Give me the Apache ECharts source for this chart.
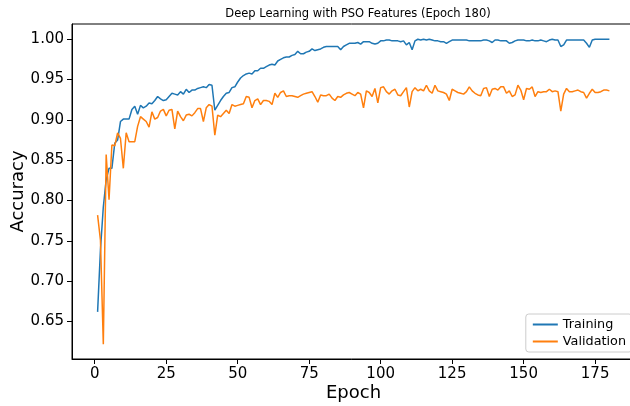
<!DOCTYPE html>
<html>
<head>
<meta charset="utf-8">
<script src="https://cdn.jsdelivr.net/npm/echarts@6/dist/echarts.min.js"></script>
<style>
  html, body { margin: 0; padding: 0; background: #fff; }
  #chart { width: 630px; height: 406px; }
</style>
</head>
<body>
<div id="chart"></div>
<script>
// Accuracy per epoch (epochs 1..180)
const trainAcc = [
  0.662, 0.739, 0.792, 0.826, 0.840, 0.840, 0.871, 0.875, 0.898, 0.901,
  0.901, 0.901, 0.913, 0.917, 0.907, 0.918, 0.915, 0.917, 0.921, 0.920,
  0.924, 0.929, 0.926, 0.924, 0.925, 0.929, 0.933, 0.932, 0.931, 0.935,
  0.932, 0.938, 0.934, 0.937, 0.937, 0.939, 0.940, 0.941, 0.940, 0.944,
  0.943, 0.912, 0.918, 0.924, 0.929, 0.933, 0.934, 0.940, 0.941, 0.947,
  0.952, 0.955, 0.957, 0.958, 0.957, 0.961, 0.961, 0.964, 0.964, 0.966,
  0.968, 0.969, 0.968, 0.973, 0.975, 0.977, 0.978, 0.978, 0.980, 0.981,
  0.985, 0.982, 0.982, 0.984, 0.985, 0.988, 0.986, 0.987, 0.988, 0.990,
  0.991, 0.991, 0.991, 0.991, 0.991, 0.987, 0.991, 0.993, 0.995, 0.995,
  0.995, 0.996, 0.994, 0.997, 0.997, 0.997, 0.995, 0.994, 0.995, 0.998,
  0.998, 0.999, 0.999, 0.998, 0.998, 0.998, 0.997, 0.998, 0.993, 0.996,
  0.987, 0.998, 1.000, 0.999, 1.000, 0.999, 1.000, 0.999, 0.998, 0.998,
  0.997, 0.997, 0.995, 0.997, 0.999, 0.999, 0.999, 0.999, 0.999, 0.999,
  0.998, 0.998, 0.998, 0.998, 0.998, 0.999, 0.999, 0.998, 0.996, 0.999,
  0.999, 0.998, 0.998, 0.998, 0.995, 0.996, 0.998, 0.999, 0.999, 0.999,
  0.998, 0.998, 0.999, 0.998, 0.998, 0.999, 0.998, 0.997, 0.999, 1.000,
  0.999, 0.999, 0.991, 0.993, 0.999, 0.999, 0.999, 0.999, 0.999, 0.999,
  0.999, 0.995, 0.990, 0.999, 1.000, 1.000, 1.000, 1.000, 1.000, 1.000
];

const valAcc = [
  0.782, 0.751, 0.622, 0.857, 0.801, 0.869, 0.868, 0.884, 0.877, 0.840,
  0.884, 0.873, 0.873, 0.873, 0.892, 0.904, 0.901, 0.898, 0.891, 0.910,
  0.901, 0.903, 0.911, 0.913, 0.905, 0.912, 0.913, 0.889, 0.911, 0.904,
  0.899, 0.906, 0.907, 0.905, 0.909, 0.914, 0.914, 0.898, 0.915, 0.919,
  0.917, 0.881, 0.906, 0.904, 0.908, 0.912, 0.908, 0.919, 0.917, 0.918,
  0.919, 0.920, 0.929, 0.928, 0.915, 0.924, 0.926, 0.919, 0.924, 0.924,
  0.923, 0.919, 0.933, 0.928, 0.934, 0.936, 0.929, 0.930, 0.930, 0.929,
  0.928, 0.930, 0.932, 0.933, 0.934, 0.935, 0.929, 0.922, 0.931, 0.930,
  0.930, 0.932, 0.927, 0.924, 0.929, 0.928, 0.931, 0.933, 0.934, 0.932,
  0.930, 0.934, 0.932, 0.915, 0.936, 0.934, 0.929, 0.939, 0.921, 0.940,
  0.941, 0.935, 0.932, 0.936, 0.938, 0.931, 0.930, 0.935, 0.940, 0.916,
  0.935, 0.940, 0.936, 0.938, 0.936, 0.943, 0.936, 0.933, 0.943, 0.936,
  0.935, 0.934, 0.932, 0.924, 0.938, 0.936, 0.934, 0.933, 0.932, 0.935,
  0.941, 0.936, 0.933, 0.931, 0.930, 0.939, 0.940, 0.929, 0.938, 0.939,
  0.937, 0.941, 0.941, 0.933, 0.936, 0.929, 0.931, 0.943, 0.937, 0.925,
  0.939, 0.938, 0.941, 0.929, 0.935, 0.934, 0.935, 0.935, 0.938, 0.935,
  0.936, 0.935, 0.911, 0.932, 0.939, 0.935, 0.935, 0.936, 0.937, 0.935,
  0.934, 0.927, 0.933, 0.938, 0.934, 0.934, 0.935, 0.937, 0.937, 0.936
];

const xTicks = [0, 25, 50, 75, 100, 125, 150, 175];
const yTicks = [0.65, 0.70, 0.75, 0.80, 0.85, 0.90, 0.95, 1.00];

const seriesNames = ['Training', 'Validation'];
const seriesColors = ['#1f77b4', '#ff7f0e'];

const toPairs = arr => arr.map((v, i) => [i + 1, v]);

const FONT = 'DejaVu Sans';
const chart = echarts.init(document.getElementById('chart'), null, { renderer: 'canvas' });

chart.setOption({
  animation: false,
  backgroundColor: '#ffffff',
  textStyle: { fontFamily: FONT },
  title: {
    text: 'Deep Learning with PSO Features (Epoch 180)',
    left: 353,
    top: 3,
    textAlign: 'center',
    textStyle: { fontFamily: FONT, fontSize: 11.5, fontWeight: 'normal', color: '#000' }
  },
  grid: {
    left: 72, top: 24, width: 563, height: 335,
    containLabel: false,
    outerBoundsMode: 'none',
    show: true, borderColor: '#000', borderWidth: 1, backgroundColor: 'transparent'
  },
  legend: {
    orient: 'vertical',
    right: -2,
    bottom: 54,
    data: seriesNames.map(n => ({ name: n, icon: 'rect' })),
    itemWidth: 25,
    itemHeight: 2,
    itemGap: 4,
    padding: [4, 6, 4, 7],
    backgroundColor: '#fff',
    borderColor: '#cccccc',
    borderWidth: 1,
    borderRadius: 3,
    textStyle: { fontFamily: FONT, fontSize: 12.8, color: '#000' }
  },
  xAxis: {
    type: 'value',
    min: -7.95,
    max: 188.95,
    name: 'Epoch',
    nameLocation: 'middle',
    nameGap: 25,
    nameMoveOverlap: false,
    nameTextStyle: { fontFamily: FONT, fontSize: 18, color: '#000' },
    axisLine: { show: true, onZero: false, lineStyle: { color: '#000', width: 1 } },
    axisTick: { show: true, inside: false, length: 5, customValues: xTicks, lineStyle: { color: '#000' } },
    axisLabel: { customValues: xTicks, margin: 8, fontFamily: FONT, fontSize: 15, color: '#000' },
    splitLine: { show: false }
  },
  yAxis: {
    type: 'value',
    min: 0.6036,
    max: 1.0189,
    name: 'Accuracy',
    nameLocation: 'middle',
    nameGap: 45,
    nameMoveOverlap: false,
    nameTextStyle: { fontFamily: FONT, fontSize: 18, color: '#000' },
    axisLine: { show: true, onZero: false, lineStyle: { color: '#000', width: 1 } },
    axisTick: { show: true, inside: false, length: 5, customValues: yTicks, lineStyle: { color: '#000' } },
    axisLabel: {
      customValues: yTicks, margin: 8, fontFamily: FONT, fontSize: 15, color: '#000',
      formatter: v => v.toFixed(2)
    },
    splitLine: { show: false }
  },
  series: [
    {
      name: seriesNames[0], type: 'line', data: toPairs(trainAcc),
      showSymbol: false, symbol: 'none', color: seriesColors[0],
      lineStyle: { width: 1.5, color: seriesColors[0] }, z: 2
    },
    {
      name: seriesNames[1], type: 'line', data: toPairs(valAcc),
      showSymbol: false, symbol: 'none', color: seriesColors[1],
      lineStyle: { width: 1.5, color: seriesColors[1] }, z: 3
    }
  ]
});
</script>
</body>
</html>
